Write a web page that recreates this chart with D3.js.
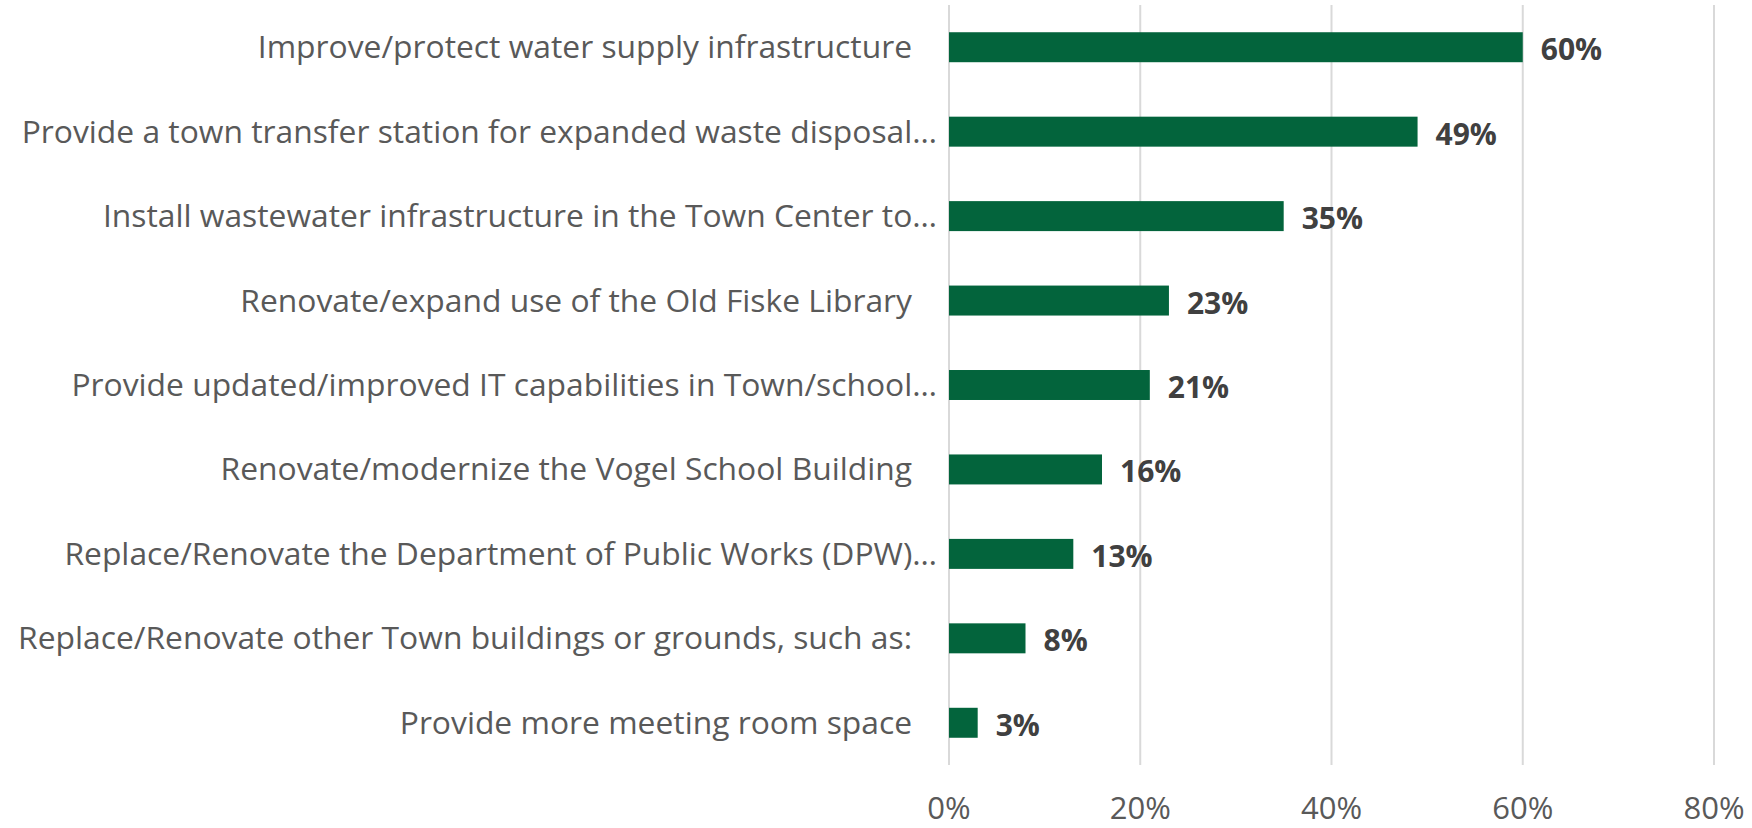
<!DOCTYPE html>
<html>
<head>
<meta charset="utf-8">
<script src="https://cdn.jsdelivr.net/npm/d3@7"></script>
<style>
  body { margin: 0; background: #fff; }
  svg { display: block; font-family: "Open Sans", sans-serif; }
</style>
</head>
<body>
<div id="chart"></div>
<script>
// survey answers, top to bottom
var categories = [
  "Improve/protect water supply infrastructure",
  "Provide a town transfer station for expanded waste disposal…",
  "Install wastewater infrastructure in the Town Center to…",
  "Renovate/expand use of the Old Fiske Library",
  "Provide updated/improved IT capabilities in Town/school…",
  "Renovate/modernize the Vogel School Building",
  "Replace/Renovate the Department of Public Works (DPW)…",
  "Replace/Renovate other Town buildings or grounds, such as:",
  "Provide more meeting room space"
];
var values = [0.60, 0.49, 0.35, 0.23, 0.21, 0.16, 0.13, 0.08, 0.03];
var ticks = [0, 0.2, 0.4, 0.6, 0.8];

var width = 1752, height = 828;
var svg = d3.select("#chart").append("svg").attr("width", width).attr("height", height);

var x = d3.scaleLinear().domain([0, 0.8]).range([949, 1714]);
var y = d3.scaleBand().domain(categories).range([5, 765])
    .paddingInner(0.645).paddingOuter(0.3225);

// gridlines
svg.append("g").selectAll("line").data(ticks).enter().append("line")
    .attr("x1", function(d) { return x(d); })
    .attr("x2", function(d) { return x(d); })
    .attr("y1", 5).attr("y2", 765)
    .attr("stroke", "#d9d9d9").attr("stroke-width", 2);

// tick labels
var fmt = d3.format(".0%");
svg.append("g").selectAll("text").data(ticks).enter().append("text")
    .attr("x", function(d) { return x(d); })
    .attr("y", 819)
    .attr("text-anchor", "middle")
    .attr("fill", "#595959")
    .style("font-size", "31px")
    .text(function(d) { return fmt(d); });

// bars
svg.append("g").selectAll("rect").data(values).enter().append("rect")
    .attr("x", x(0))
    .attr("y", function(d, i) { return y(categories[i]); })
    .attr("width", function(d) { return x(d) - x(0); })
    .attr("height", y.bandwidth())
    .attr("fill", "#03643c");

// value labels
svg.append("g").selectAll("text").data(values).enter().append("text")
    .attr("x", function(d) { return x(d) + 18; })
    .attr("y", function(d, i) { return y(categories[i]) + y.bandwidth() / 2 + 13; })
    .attr("fill", "#404040")
    .style("font-size", "30px")
    .style("font-weight", "bold")
    .text(function(d) { return fmt(d); });

// category labels (truncated ones sit closer to the axis)
svg.append("g").selectAll("text").data(categories).enter().append("text")
    .attr("x", function(d) { return d.slice(-1) === "…" ? x(0) - 12 : x(0) - 37; })
    .attr("y", function(d) { return y(d) + y.bandwidth() / 2 + 11; })
    .attr("text-anchor", "end")
    .attr("fill", "#595959")
    .style("font-size", "31.8px")
    .text(function(d) { return d; });
</script>
</body>
</html>
